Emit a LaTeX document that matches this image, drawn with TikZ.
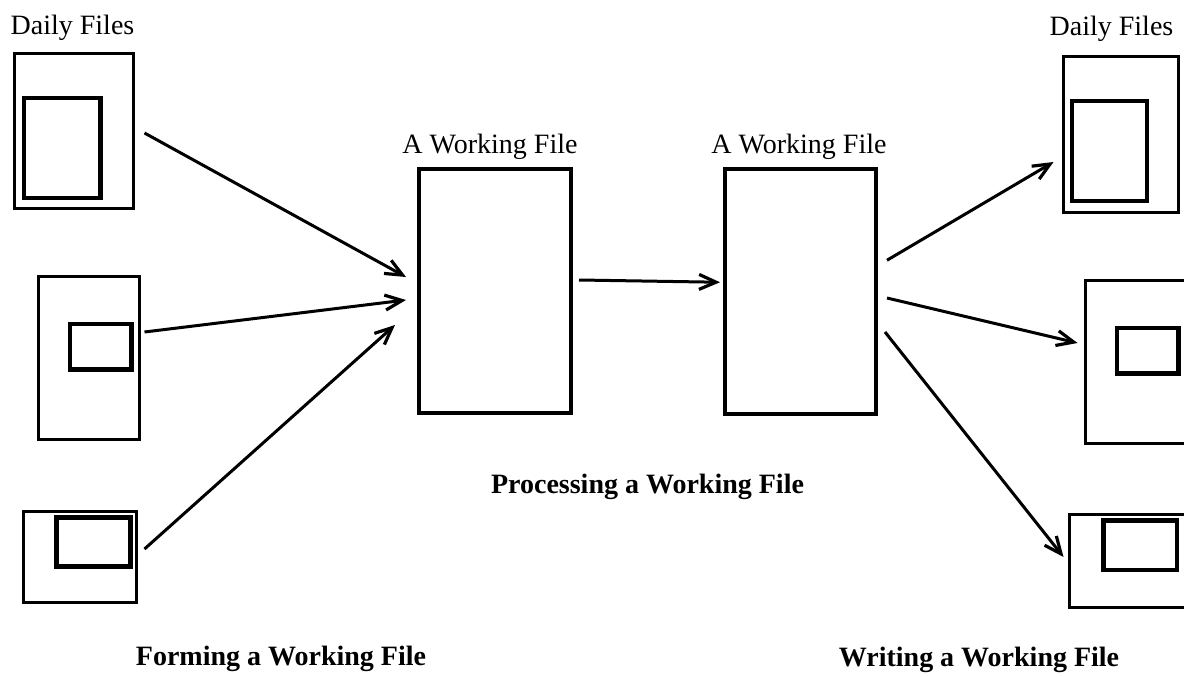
\documentclass[tikz,border=0pt]{standalone}
\usepackage{fontspec}
\setmainfont{Liberation Serif}
\usetikzlibrary{arrows.meta,calc}
\begin{document}
\begin{tikzpicture}[x=1pt,y=-1pt,
  outerbox/.style={draw,line width=3pt,inner sep=0pt,minimum width=#1},
  innerbox/.style={draw,line width=4.5pt,inner sep=0pt,minimum width=#1},
  workbox/.style={draw,line width=4pt,inner sep=0pt,minimum width=#1},
  lbl/.style={inner sep=0pt,anchor=base,font=\fontsize{28}{34}\selectfont},
  captext/.style={lbl,font=\fontsize{28}{34}\selectfont\bfseries},
  arr/.style={line width=3pt,-{Straight Barb[length=17pt,width=15pt,line width=3.2pt]}}]
\useasboundingbox (0,0) rectangle (1184,677);
\clip (0,0) rectangle (1184,677);

% daily files on the left
\node[outerbox=119pt,minimum height=155.5pt] (tl) at (73.5,131) {};
\node[innerbox=76.5pt,minimum height=100pt] (tli) at (62,148) {};
\node[outerbox=100.5pt,minimum height=163pt] (ml) at (88.75,357.5) {};
\node[innerbox=61.5pt,minimum height=45.5pt] (mli) at (100.75,346.75) {};
\node[outerbox=113pt,minimum height=91pt] (bl) at (80,556.5) {};
\node[innerbox=74pt,minimum height=49pt] (bli) at (93.5,542) {};

% the working file, before and after processing
\node[workbox=152pt,minimum height=244pt] (w1) at (494.5,290.5) {};
\node[workbox=150.5pt,minimum height=244.5pt] (w2) at (800.25,291.25) {};

% daily files on the right
\node[outerbox=115.5pt,minimum height=155pt] (tr) at (1120.75,134.5) {};
\node[innerbox=75pt,minimum height=100pt] (tri) at (1109.5,151) {};
\node[outerbox=114.5pt,minimum height=163pt] (mr) at (1142.75,361.5) {};
\node[innerbox=61.5pt,minimum height=45.5pt] (mri) at (1147.75,350.75) {};
\node[outerbox=120.5pt,minimum height=93pt] (br) at (1129.75,560.5) {};
\node[innerbox=73.5pt,minimum height=49.5pt] (bri) at (1140.25,545.25) {};

% labels
\node[lbl] (dl) at (72.5,35) {Daily Files};
\node[lbl] (dr) at (1111.5,36) {Daily Files};
\node[lbl] (wl1) at (490,153) {A Working File};
\node[lbl] (wl2) at (799,153) {A Working File};
\node[captext] (cproc) at (647.5,493) {Processing a Working File};
\node[captext] (cform) at (281,665) {Forming a Working File};
\node[captext] (cwrite) at (979,666) {Writing a Working File};

% forming
\draw[arr] ($(tl.east)+(10,2)$) -- ($(w1.west)+(-10.5,-13.5)$);
\draw[arr] ($(ml.east)+(4,-25.5)$) -- ($(w1.west)+(-10.5,9.5)$);
\draw[arr] ($(bl.east)+(6.5,-7.5)$) -- ($(w1.west)+(-21.5,34.5)$);
% processing
\draw[arr] ($(w1.east)+(6.5,-10.5)$) -- ($(w2.west)+(-3,-9)$);
% writing
\draw[arr] ($(w2.east)+(9.5,-31)$) -- ($(tr.west)+(-8,27.5)$);
\draw[arr] ($(w2.east)+(9.5,6.75)$) -- ($(mr.west)+(-6.5,-18.5)$);
\draw[arr] ($(w2.east)+(7.5,40.75)$) -- ($(br.west)+(-4.5,-3.5)$);
\end{tikzpicture}
\end{document}
